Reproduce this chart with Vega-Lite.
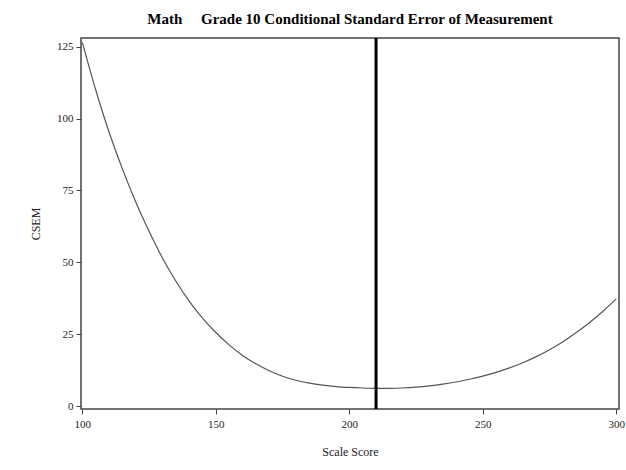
{
  "$schema": "https://vega.github.io/schema/vega-lite/v6.json",
  "autosize": "none",
  "width": 538,
  "height": 371,
  "padding": {"left": 81, "top": 38, "right": 7, "bottom": 61},
  "background": "white",
  "title": {
    "text": "Math\u00a0\u00a0\u00a0\u00a0 Grade 10 Conditional Standard Error of Measurement",
    "font": "Liberation Serif",
    "fontSize": 15,
    "fontWeight": "bold",
    "color": "#000000",
    "anchor": "middle",
    "offset": 10
  },
  "config": {
    "view": {"stroke": "#444444", "strokeWidth": 1.5},
    "axis": {
      "labelFont": "Liberation Serif",
      "titleFont": "Liberation Serif",
      "labelFontSize": 11,
      "titleFontSize": 12,
      "titleFontWeight": "normal",
      "labelColor": "#222222",
      "titleColor": "#222222",
      "domain": false,
      "grid": false,
      "tickColor": "#444444",
      "tickSize": 5
    }
  },
  "data": {
    "values": [
      {"score": 100, "csem": 126.5},
      {"score": 105, "csem": 110},
      {"score": 110, "csem": 95.3},
      {"score": 115, "csem": 82.5},
      {"score": 120, "csem": 71},
      {"score": 125, "csem": 60.8},
      {"score": 130, "csem": 51.5},
      {"score": 135, "csem": 43.5},
      {"score": 140, "csem": 36.5},
      {"score": 145, "csem": 30.6},
      {"score": 150, "csem": 25.6},
      {"score": 155, "csem": 21.3},
      {"score": 160, "csem": 17.6},
      {"score": 165, "csem": 14.7},
      {"score": 170, "csem": 12.3},
      {"score": 175, "csem": 10.4},
      {"score": 180, "csem": 9.0},
      {"score": 185, "csem": 8.0},
      {"score": 190, "csem": 7.3},
      {"score": 195, "csem": 6.8},
      {"score": 200, "csem": 6.5},
      {"score": 205, "csem": 6.3},
      {"score": 210, "csem": 6.2},
      {"score": 215, "csem": 6.2},
      {"score": 220, "csem": 6.3},
      {"score": 225, "csem": 6.6},
      {"score": 230, "csem": 7.05},
      {"score": 235, "csem": 7.65},
      {"score": 240, "csem": 8.4},
      {"score": 245, "csem": 9.35},
      {"score": 250, "csem": 10.45},
      {"score": 255, "csem": 11.75},
      {"score": 260, "csem": 13.3},
      {"score": 265, "csem": 15.1},
      {"score": 270, "csem": 17.2},
      {"score": 275, "csem": 19.6},
      {"score": 280, "csem": 22.4},
      {"score": 285, "csem": 25.6},
      {"score": 290, "csem": 29.1},
      {"score": 295, "csem": 33.0},
      {"score": 300, "csem": 37.3}
    ]
  },
  "layer": [
    {
      "mark": {"type": "line", "color": "#555555", "strokeWidth": 1.2, "interpolate": "monotone"},
      "encoding": {
        "x": {
          "field": "score", "type": "quantitative",
          "scale": {"domain": [99.5, 301], "nice": false, "zero": false},
          "axis": {"values": [100, 150, 200, 250, 300], "title": "Scale Score", "titlePadding": 17, "labelPadding": 4}
        },
        "y": {
          "field": "csem", "type": "quantitative",
          "scale": {"domain": [-1, 128], "nice": false, "zero": false},
          "axis": {"values": [0, 25, 50, 75, 100, 125], "title": "CSEM", "titlePadding": 14, "labelPadding": 3}
        }
      }
    },
    {
      "data": {"values": [{"ref": 210}]},
      "mark": {"type": "rule", "color": "#000000", "strokeWidth": 3},
      "encoding": {
        "x": {"field": "ref", "type": "quantitative"}
      }
    }
  ]
}
